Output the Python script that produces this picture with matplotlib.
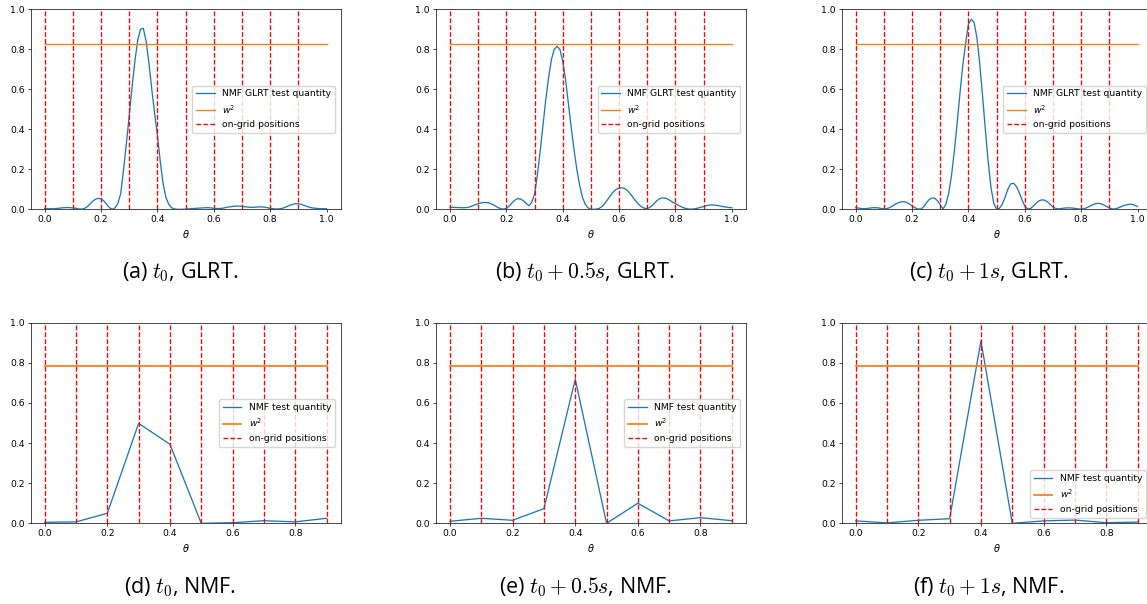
import numpy as np
import matplotlib
matplotlib.use('Agg')
import matplotlib.pyplot as plt

# theta grid (step 0.01)
theta_fine = np.round(np.arange(0, 1.001, 0.01), 2)

glrt_t0 = [0.003, 0.003, 0.003, 0.003, 0.004, 0.005, 0.007, 0.008, 0.009, 0.008,
           0.007, 0.005, 0.002, 0.001, 0.003, 0.012, 0.025, 0.040, 0.050, 0.055,
           0.052, 0.042, 0.025, 0.008, 0.000, 0.008, 0.030, 0.080, 0.20, 0.33,
           0.47, 0.61, 0.74, 0.845, 0.90, 0.905, 0.84, 0.73, 0.60, 0.48,
           0.37, 0.24, 0.13, 0.06, 0.025, 0.008, 0.002, 0.000, 0.000, 0.000,
           0.001, 0.002, 0.003, 0.004, 0.005, 0.006, 0.007, 0.008, 0.008, 0.007,
           0.005, 0.004, 0.004, 0.005, 0.008, 0.011, 0.013, 0.015, 0.016, 0.016,
           0.015, 0.013, 0.011, 0.010, 0.010, 0.011, 0.012, 0.012, 0.011, 0.008,
           0.005, 0.003, 0.002, 0.002, 0.004, 0.008, 0.014, 0.020, 0.025, 0.028,
           0.028, 0.025, 0.020, 0.015, 0.010, 0.007, 0.005, 0.004, 0.003, 0.003,
           0.003]

glrt_t05 = [0.010, 0.010, 0.009, 0.009, 0.008, 0.008, 0.009, 0.012, 0.017, 0.023,
            0.028, 0.032, 0.034, 0.034, 0.031, 0.025, 0.017, 0.009, 0.003, 0.001,
            0.005, 0.016, 0.032, 0.046, 0.053, 0.052, 0.043, 0.030, 0.018, 0.035,
            0.075, 0.17, 0.29, 0.42, 0.55, 0.66, 0.75, 0.80, 0.815, 0.80,
            0.74, 0.65, 0.53, 0.41, 0.30, 0.20, 0.12, 0.06, 0.025, 0.007,
            0.000, 0.000, 0.001, 0.005, 0.015, 0.030, 0.050, 0.070, 0.088, 0.100,
            0.106, 0.108, 0.104, 0.093, 0.077, 0.058, 0.040, 0.024, 0.012, 0.005,
            0.004, 0.010, 0.022, 0.037, 0.050, 0.056, 0.057, 0.053, 0.045, 0.036,
            0.028, 0.020, 0.013, 0.007, 0.003, 0.001, 0.001, 0.003, 0.006, 0.010,
            0.014, 0.018, 0.021, 0.022, 0.021, 0.019, 0.016, 0.013, 0.011, 0.009,
            0.008]

glrt_t1 = [0.008, 0.006, 0.004, 0.003, 0.004, 0.006, 0.008, 0.008, 0.007, 0.004,
           0.002, 0.003, 0.008, 0.016, 0.025, 0.032, 0.037, 0.038, 0.035, 0.027,
           0.017, 0.008, 0.002, 0.001, 0.010, 0.030, 0.048, 0.056, 0.056, 0.043,
           0.022, 0.002, 0.025, 0.080, 0.17, 0.29, 0.43, 0.58, 0.72, 0.83,
           0.925, 0.950, 0.935, 0.86, 0.73, 0.57, 0.40, 0.24, 0.11, 0.03,
           0.000, 0.005, 0.025, 0.060, 0.100, 0.127, 0.130, 0.115, 0.085, 0.048,
           0.016, 0.002, 0.004, 0.015, 0.030, 0.042, 0.047, 0.046, 0.038, 0.025,
           0.012, 0.004, 0.002, 0.004, 0.006, 0.007, 0.007, 0.006, 0.004, 0.002,
           0.001, 0.003, 0.008, 0.015, 0.022, 0.028, 0.030, 0.028, 0.022, 0.014,
           0.007, 0.002, 0.002, 0.006, 0.012, 0.018, 0.022, 0.025, 0.025, 0.020,
           0.014]

# NMF test quantity on the grid
theta_grid = [0.0, 0.1, 0.2, 0.3, 0.4, 0.5, 0.6, 0.7, 0.8, 0.9]
nmf_t0 = [0.005, 0.007, 0.050, 0.498, 0.394, 0.000, 0.003, 0.013, 0.007, 0.025]
nmf_t05 = [0.010, 0.025, 0.015, 0.073, 0.718, 0.000, 0.100, 0.012, 0.028, 0.013]
nmf_t1 = [0.012, 0.002, 0.015, 0.023, 0.909, 0.000, 0.012, 0.016, 0.003, 0.006]

w2_glrt = 0.825
w2_nmf = 0.786

captions_top = [r'(a) $t_0$, GLRT.', r'(b) $t_0+0.5s$, GLRT.', r'(c) $t_0+1s$, GLRT.']
captions_bot = [r'(d) $t_0$, NMF.', r'(e) $t_0+0.5s$, NMF.', r'(f) $t_0+1s$, NMF.']

s = 0.625  # subfigures were shrunk from default size
plt.rcParams['font.size'] = 6.7
plt.rcParams['lines.linewidth'] = 1.5 * s
plt.rcParams['axes.linewidth'] = 0.8 * s
for ax_ in ['xtick', 'ytick']:
    plt.rcParams[ax_ + '.major.size'] = 3.5 * s
    plt.rcParams[ax_ + '.major.width'] = 0.8 * s
    plt.rcParams[ax_ + '.major.pad'] = 3.5 * s
plt.rcParams['axes.labelpad'] = 4.0 * s

W, H = 1147, 604
fig = plt.figure(figsize=(W / 100, H / 100), dpi=100)

lefts = [30.6, 435.9, 841.6]
aw = 310


def panel(left, top, height, x, y, w2, label, loc, orange_lw):
    ax = fig.add_axes([left / W, (H - top - height) / H, aw / W, height / H])
    ax.plot(x, y, color='#1f77b4', label=label)
    ax.plot([x[0], x[-1]], [w2, w2], color='#ff7f0e', lw=orange_lw, label='$w^2$')
    for i, g in enumerate(theta_grid):
        ax.axvline(g, color='r', ls='--', lw=1.5 * s,
                   label='on-grid positions' if i == 0 else None)
    ax.set_ylim(0, 1)
    ax.set_xlabel(r'$\theta$', fontsize=7)
    ax.legend(loc=loc, borderaxespad=0.6)
    return ax


glrt_data = [glrt_t0, glrt_t05, glrt_t1]
for k in range(3):
    panel(lefts[k], 9.3, 200, theta_fine, glrt_data[k], w2_glrt,
          'NMF GLRT test quantity', 'center right', 1.5 * s)

nmf_data = [nmf_t0, nmf_t05, nmf_t1]
nmf_locs = ['center right', 'center right', 'lower right']
for k in range(3):
    panel(lefts[k], 322.7, 200.6, theta_grid, nmf_data[k], w2_nmf,
          'NMF test quantity', nmf_locs[k], 2.0 * s)

cap_x = [180, 585, 989]
cap_font = dict(ha='center', va='baseline', fontsize=15.5,
                family=['Open Sans', 'DejaVu Sans'], math_fontfamily='cm')
for k in range(3):
    fig.text(cap_x[k] / W, (H - 278.3) / H, captions_top[k], **cap_font)
    fig.text(cap_x[k] / W, (H - 593.3) / H, captions_bot[k], **cap_font)

fig.savefig('out.png', dpi=100)
